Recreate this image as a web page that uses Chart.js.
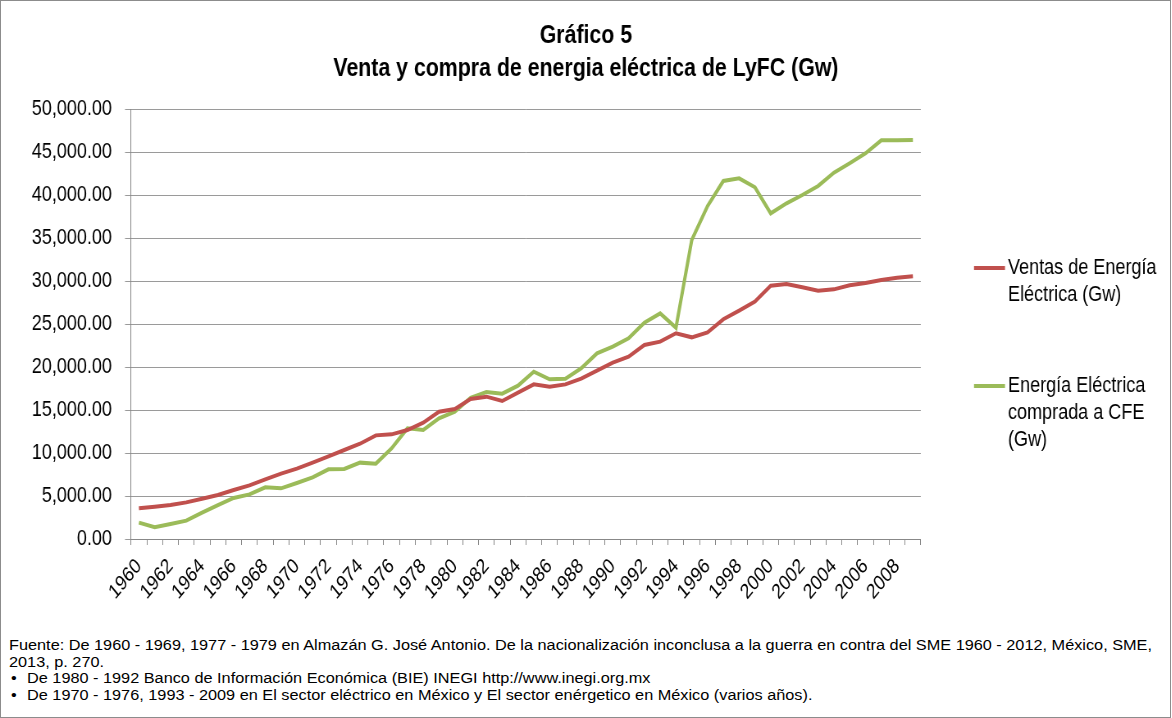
<!DOCTYPE html>
<html>
<head>
<meta charset="utf-8">
<script src="https://cdn.jsdelivr.net/npm/chart.js@4/dist/chart.umd.min.js"></script>
<style>
html,body{margin:0;padding:0;background:#fff;width:1172px;height:718px;overflow:hidden;}
#frame{position:absolute;left:0;top:0;width:1169px;height:716px;border:1px solid #8c8c8c;overflow:hidden;}
#wrap{position:absolute;left:-1px;top:-1px;transform-origin:0 0;}
#note{position:absolute;left:8px;top:636px;font-family:"Liberation Sans",Arial,sans-serif;font-size:14px;line-height:16.5px;color:#000;transform-origin:0 0;white-space:nowrap;}
#note .b{display:inline-block;}
</style>
</head>
<body>
<div id="frame">
  <div id="wrap"><canvas id="c"></canvas></div>
  <div id="note">
    <div id="l1">Fuente: De 1960 - 1969, 1977 - 1979 en Almazán G. José Antonio. De la nacionalización inconclusa a la guerra en contra del SME 1960 - 2012, México, SME,</div>
    <div>2013, p. 270.</div>
    <div><span class="b">•</span>De 1980 - 1992 Banco de Información Económica (BIE) INEGI http://www.inegi.org.mx</div>
    <div><span class="b">•</span>De 1970 - 1976, 1993 - 2009 en El sector eléctrico en México y El sector enérgetico en México (varios años).</div>
  </div>
</div>
<script>
// ---- data ----
const years = ['1960','1961','1962','1963','1964','1965','1966','1967','1968','1969',
  '1970','1971','1972','1973','1974','1975','1976','1977','1978','1979',
  '1980','1981','1982','1983','1984','1985','1986','1987','1988','1989',
  '1990','1991','1992','1993','1994','1995','1996','1997','1998','1999',
  '2000','2001','2002','2003','2004','2005','2006','2007','2008','2009'];
const ventas = [3570,3760,3950,4260,4690,5120,5700,6240,6940,7600,
  8180,8880,9610,10350,11080,12050,12170,12670,13530,14800,
  15120,16280,16550,16050,17020,17980,17710,17980,18640,19570,
  20500,21200,22560,22950,23920,23450,24030,25550,26550,27600,
  29460,29650,29270,28880,29030,29500,29770,30120,30380,30550];
const compras = [1900,1360,1740,2130,3060,3950,4770,5190,6010,5890,
  6510,7170,8100,8140,8880,8760,10540,12870,12670,14030,
  14800,16430,17090,16900,17830,19460,18570,18640,19840,21590,
  22360,23330,25160,26240,24570,34770,38720,41630,41940,40900,
  37870,39030,40000,41050,42590,43690,44850,46360,46360,46400];
const seriesNames = [['Ventas de Energía','Eléctrica (Gw)'], ['Energía Eléctrica','comprada a CFE','(Gw)']];
const titleLines = ['Gráfico 5', 'Venta y compra de energia eléctrica de LyFC (Gw)'];
const yMin = 0, yMax = 50000, yStep = 5000;

// ---- font detection ----
const mc = document.createElement('canvas').getContext('2d');
mc.font = '20px "Liberation Sans Narrow", monospace';
const wN = mc.measureText('abcdefghijklmnop').width;
mc.font = '20px monospace';
const wM = mc.measureText('abcdefghijklmnop').width;
const hasNarrow = Math.abs(wN - wM) > 0.5;
const SX = hasNarrow ? 1 : 0.82;
const FONT = hasNarrow ? '"Liberation Sans Narrow", "Liberation Sans", Arial' : '"Liberation Sans", Arial, sans-serif';
const ROT = hasNarrow ? 50 : 45;

const W = Math.round(1172 / SX), H = 625;
const canvas = document.getElementById('c');
canvas.width = W; canvas.height = H;
const wrap = document.getElementById('wrap');
wrap.style.transform = 'scaleX(' + SX + ')';

const RED = '#C0504D', GREEN = '#9BBB59';

const legendPlugin = {
  id: 'sideLegend',
  afterDraw(chart) {
    const ctx = chart.ctx;
    const tops = [268, 386];
    const colors = [RED, GREEN];
    ctx.save();
    ctx.font = '22px ' + FONT;
    ctx.fillStyle = '#000';
    ctx.textBaseline = 'middle';
    ctx.textAlign = 'left';
    seriesNames.forEach((lines, i) => {
      const y0 = tops[i];
      ctx.strokeStyle = colors[i];
      ctx.lineWidth = 4;
      ctx.beginPath();
      ctx.moveTo(974 / SX, y0);
      ctx.lineTo(1005 / SX, y0);
      ctx.stroke();
      lines.forEach((t, k) => ctx.fillText(t, 1008 / SX, y0 + k * 27));
    });
    ctx.restore();
  }
};

new Chart(canvas, {
  type: 'line',
  data: {
    labels: years,
    datasets: [
      { label: seriesNames[0].join(' '), data: ventas, borderColor: RED, backgroundColor: RED, borderWidth: 4, pointRadius: 0, tension: 0, yAxisID: 'y' },
      { label: seriesNames[1].join(' '), data: compras, borderColor: GREEN, backgroundColor: GREEN, borderWidth: 4, pointRadius: 0, tension: 0, yAxisID: 'y' }
    ]
  },
  options: {
    responsive: false,
    animation: false,
    devicePixelRatio: 1,
    layout: { padding: 0 },
    plugins: {
      legend: { display: false },
      tooltip: { enabled: false },
      title: {
        display: true,
        text: titleLines,
        color: '#000',
        font: { family: FONT, size: 26, weight: 'bold', lineHeight: 33 / 26 },
        padding: { top: 19.5, bottom: 23.5 }
      }
    },
    scales: {
      x: {
        type: 'category',
        offset: true,
        grid: { offset: true, drawOnChartArea: false, drawTicks: true, tickLength: 6, color: '#888', lineWidth: 1 },
        border: { color: '#888', width: 1 },
        ticks: {
          autoSkip: false, minRotation: ROT, maxRotation: ROT, color: '#000', padding: 9,
          font: { family: FONT, size: 21 },
          callback: (v, i) => (i % 2 === 0 ? years[i] : '')
        },
        afterFit: s => { s.height = H - 539; }
      },
      y: {
        position: 'left',
        min: yMin, max: yMax,
        grid: { color: '#9a9a9a', lineWidth: 1, drawTicks: true, tickLength: 6 / SX },
        border: { color: '#888', width: 1 },
        ticks: {
          stepSize: yStep, color: '#000', padding: 13 / SX,
          font: { family: FONT, size: 22 },
          callback: v => Number(v).toLocaleString('en-US', { minimumFractionDigits: 2, maximumFractionDigits: 2 })
        },
        afterFit: s => { s.width = 131 / SX; }
      },
      legendSpace: {
        position: 'right',
        min: yMin, max: yMax,
        grid: { display: false, drawOnChartArea: false },
        border: { display: false },
        ticks: { display: false },
        afterFit: s => { s.width = (1172 - 921) / SX; }
      }
    }
  },
  plugins: [legendPlugin]
});

// footnote width match
const l1 = document.getElementById('l1');
const w1 = l1.getBoundingClientRect().width;
const s = 1143 / w1;
const note = document.getElementById('note');
note.style.transform = 'scaleX(' + s + ')';
document.querySelectorAll('#note .b').forEach(b => {
  b.style.paddingLeft = (2 / s) + 'px';
  b.style.width = ((26 - 8) / s - 2 / s) + 'px';
});
</script>
</body>
</html>
